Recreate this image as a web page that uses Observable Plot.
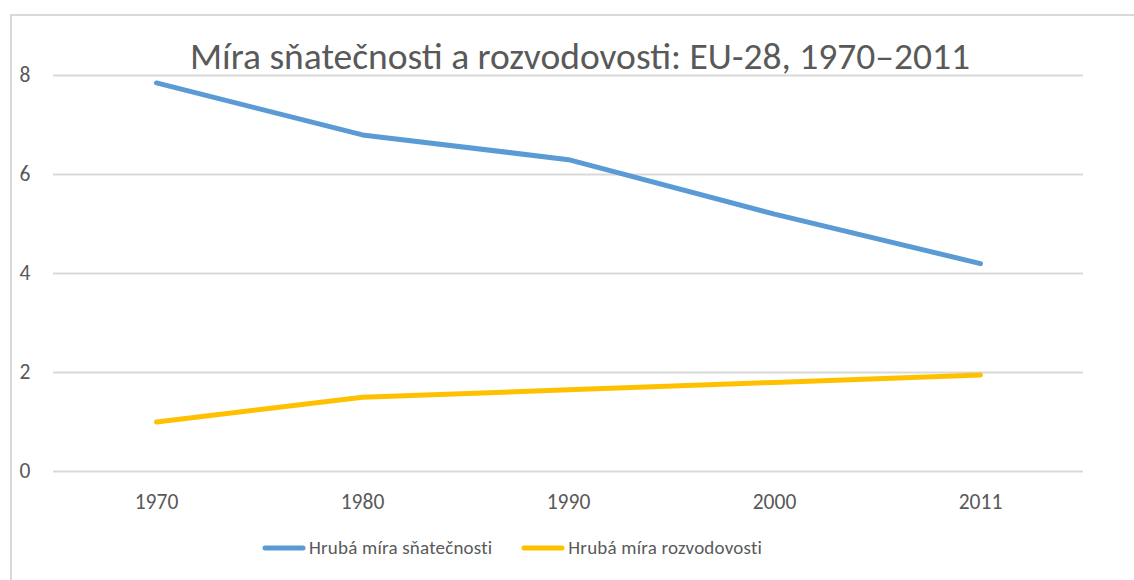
<!DOCTYPE html>
<html>
<head>
<meta charset="utf-8">
<script src="https://cdn.jsdelivr.net/npm/d3@7"></script>
<script src="https://cdn.jsdelivr.net/npm/@observablehq/plot@0.6"></script>
<style>
  html, body { margin: 0; padding: 0; background: #fff; }
  #wrap { position: relative; width: 1134px; height: 580px; overflow: hidden; font-family: Carlito, Calibri, Lato, sans-serif; color: #595959; }
  #frame { position: absolute; left: 10px; top: 14px; width: 2000px; height: 2000px; border-left: 2px solid #D9D9D9; border-top: 2px solid #D9D9D9; }
  #title { position: absolute; left: 0; width: 1160px; top: 34px; text-align: center; font-size: 37.5px; line-height: 44px; white-space: nowrap; }
  #chart { position: absolute; left: 0; top: 0; }
  #legend { position: absolute; left: 262px; top: 536px; display: flex; align-items: center; font-size: 19px; letter-spacing: 0.2px; white-space: nowrap; }
  .item { display: flex; align-items: center; margin-right: 29px; }
  .item svg { margin-right: 3px; }
</style>
</head>
<body>
<div id="wrap">
  <div id="frame"></div>
  <div id="chart"></div>
  <div id="title"></div>
  <div id="legend"></div>
</div>
<script>
const title = "Míra sňatečnosti a rozvodovosti: EU-28, 1970–2011";
const years = ["1970", "1980", "1990", "2000", "2011"];
const seriesNames = ["Hrubá míra sňatečnosti", "Hrubá míra rozvodovosti"];
const marriageRate = [7.85, 6.8, 6.3, 5.2, 4.2];
const divorceRate = [1.0, 1.5, 1.65, 1.8, 1.95];
const yTicks = [0, 2, 4, 6, 8];
const colors = ["#5B9BD5", "#FFC000"];

const data = [
  ...years.map((y, i) => ({year: y, value: marriageRate[i], series: seriesNames[0]})),
  ...years.map((y, i) => ({year: y, value: divorceRate[i], series: seriesNames[1]}))
];

const chart = Plot.plot({
  width: 1134,
  height: 580,
  marginLeft: 53,
  marginRight: 51,
  marginTop: 75,
  marginBottom: 109,
  style: {fontFamily: "Carlito, Calibri, Lato, sans-serif", fontSize: "21.5px", color: "#595959", background: "transparent", overflow: "visible"},
  x: {type: "point", domain: years, padding: 0.5, label: null, tickSize: 0, tickPadding: 22},
  y: {domain: [0, 8], ticks: yTicks, label: null, tickSize: 0, tickPadding: 23},
  color: {domain: seriesNames, range: colors},
  marks: [
    Plot.ruleY(yTicks, {stroke: "#D9D9D9", strokeWidth: 2}),
    Plot.line(data, {x: "year", y: "value", stroke: "series", z: "series", strokeWidth: 5, curve: "linear", strokeLinecap: "round", strokeLinejoin: "round"})
  ]
});
document.getElementById("chart").appendChild(chart);
document.getElementById("title").textContent = title;

const legend = document.getElementById("legend");
seriesNames.forEach((name, i) => {
  const item = document.createElement("div");
  item.className = "item";
  item.innerHTML = `<svg width="44" height="8"><line x1="3" y1="4" x2="41" y2="4" stroke="${colors[i]}" stroke-width="5" stroke-linecap="round"/></svg><span>${name}</span>`;
  legend.appendChild(item);
});
</script>
</body>
</html>
